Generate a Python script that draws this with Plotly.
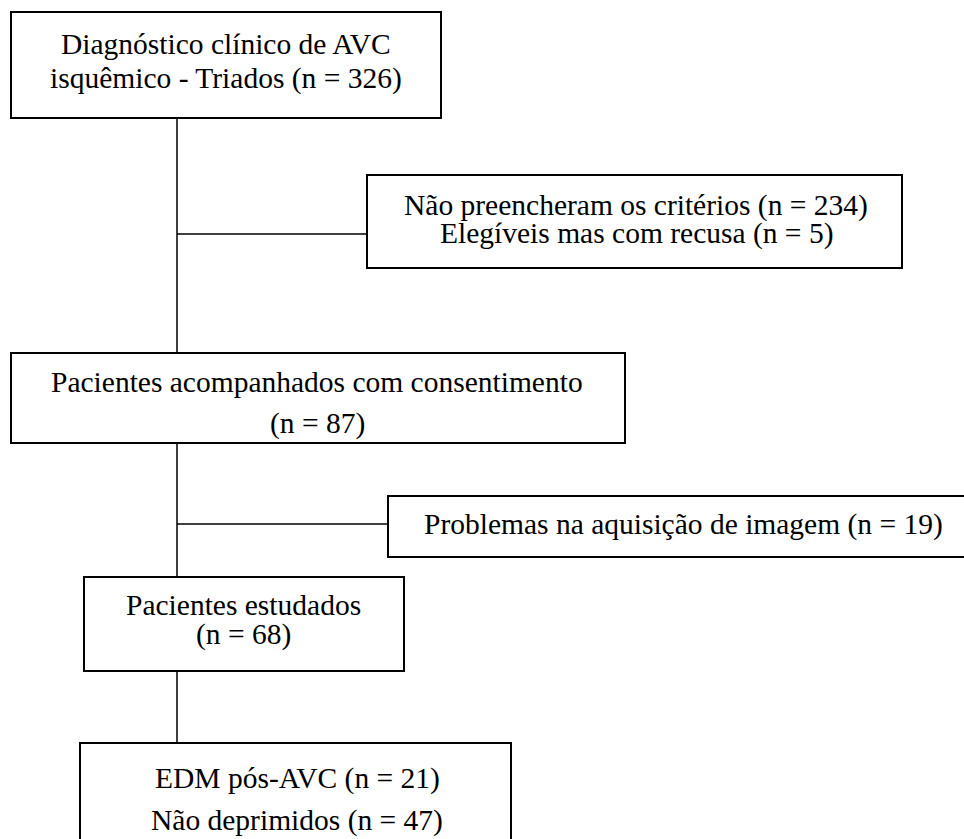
import plotly.graph_objects as go

# ---- content (flowchart text) ----
box_lines = [
    ["Diagnóstico clínico de AVC", "isquêmico - Triados (n = 326)"],
    ["Não preencheram os critérios (n = 234)", "Elegíveis mas com recusa (n = 5)"],
    ["Pacientes acompanhados com consentimento", "(n = 87)"],
    ["Problemas na aquisição de imagem (n = 19)"],
    ["Pacientes estudados", "(n = 68)"],
    ["EDM pós-AVC (n = 21)", "Não deprimidos (n = 47)"],
]

# ---- layout geometry (pixels in a 964x839 canvas) ----
box_rects = [  # x0, y0, x1, y1
    (11, 12, 441, 118),
    (367, 175, 902, 268),
    (11, 353, 625, 443),
    (388, 496, 978, 557),
    (84, 577, 404, 671),
    (80, 743, 511, 860),
]
text_x = [226, 636, 317, 683, 243, 297]
text_y = [
    [43.5, 78],
    [205, 233],
    [381.5, 423],
    [524.5],
    [605, 634.5],
    [778.5, 820.5],
]
connectors = [  # x0, y0, x1, y1
    (177, 118, 177, 353),
    (177, 234, 367, 234),
    (177, 443, 177, 577),
    (177, 524, 388, 524),
    (177, 671, 177, 743),
]

fig = go.Figure()
# invisible trace to anchor axes
fig.add_trace(go.Scatter(x=[0, 964], y=[0, 839], mode="markers",
                         marker=dict(opacity=0), hoverinfo="skip", showlegend=False))

shapes = []
for (x0, y0, x1, y1) in connectors:
    shapes.append(dict(type="line", xref="x", yref="y", x0=x0, y0=y0, x1=x1, y1=y1,
                       line=dict(color="black", width=1.5)))
for (x0, y0, x1, y1) in box_rects:
    shapes.append(dict(type="rect", xref="x", yref="y", x0=x0, y0=y0, x1=x1, y1=y1,
                       line=dict(color="black", width=2), fillcolor="rgba(0,0,0,0)"))

annotations = []
for lines, cx, ys in zip(box_lines, text_x, text_y):
    for line, cy in zip(lines, ys):
        annotations.append(dict(x=cx, y=cy, xref="x", yref="y", text=line,
                                showarrow=False, xanchor="center", yanchor="middle",
                                font=dict(family="Liberation Serif, Times New Roman, serif",
                                          size=29.5, color="black")))

fig.update_layout(
    width=964, height=839,
    margin=dict(l=0, r=0, t=0, b=0),
    paper_bgcolor="white", plot_bgcolor="white",
    xaxis=dict(range=[0, 964], visible=False, fixedrange=True),
    yaxis=dict(range=[839, 0], visible=False, fixedrange=True),
    shapes=shapes, annotations=annotations, showlegend=False,
)

fig.write_html(
    "out.html",
    config={"displayModeBar": False},
    post_script="document.body.style.margin='0';document.body.style.overflow='hidden';",
)
